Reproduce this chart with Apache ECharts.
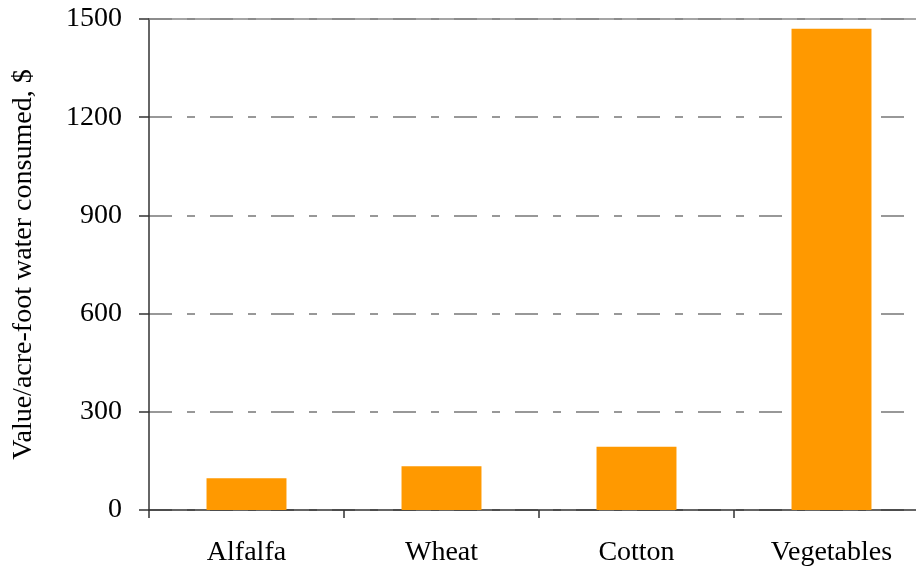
<!DOCTYPE html>
<html>
<head>
<meta charset="utf-8">
<script src="https://cdn.jsdelivr.net/npm/echarts@6/dist/echarts.min.js"></script>
<style>
html,body{margin:0;padding:0;background:#fff;overflow:hidden;width:916px;height:569px;}
#chart{width:932px;height:569px;}
</style>
</head>
<body>
<div id="chart"></div>
<script>
var categories = ["Alfalfa", "Wheat", "Cotton", "Vegetables"];
var values = [97, 134, 193, 1470];
var yTicks = [0, 300, 600, 900, 1200, 1500];
var yTitle = "Value/acre-foot water consumed, $";

var font = "'Liberation Serif', 'Times New Roman', serif";
var chart = echarts.init(document.getElementById('chart'));
chart.setOption({
  animation: false,
  backgroundColor: '#fff',
  grid: { left: 149, right: 3, top: 19, bottom: 59, containLabel: false },
  xAxis: [{
    type: 'category',
    data: categories,
    position: 'bottom',
    axisLine: { show: true, lineStyle: { color: '#333', width: 1.5 } },
    axisTick: { show: true, length: 8, lineStyle: { color: '#333', width: 1.5 } },
    axisLabel: { color: '#000', fontFamily: font, fontSize: 28, margin: 29 },
    splitLine: { show: false }
  }, {
    type: 'category',
    data: categories,
    position: 'top',
    axisLine: { show: true, lineStyle: { color: '#888', width: 1.5 } },
    axisTick: { show: false },
    axisLabel: { show: false },
    splitLine: { show: false }
  }],
  yAxis: {
    type: 'value',
    min: yTicks[0],
    max: yTicks[yTicks.length - 1],
    interval: 300,
    name: yTitle,
    nameLocation: 'middle',
    nameRotate: 90,
    nameGap: 111,
    nameTextStyle: { color: '#000', fontFamily: font, fontSize: 28 },
    axisLine: { show: true, lineStyle: { color: '#333', width: 1.5 } },
    axisTick: { show: true, length: 10, inside: false, lineStyle: { color: '#333', width: 1.5 } },
    axisLabel: { color: '#000', fontFamily: font, fontSize: 28, margin: 27, formatter: function (v) { return String(v); } },
    splitLine: {
      show: true,
      lineStyle: { color: '#777', width: 1.5, type: [23, 15, 8, 15] }
    }
  },
  series: [{
    type: 'bar',
    data: values,
    barWidth: '41%',
    itemStyle: { color: '#FF9900' }
  }]
});
</script>
</body>
</html>
